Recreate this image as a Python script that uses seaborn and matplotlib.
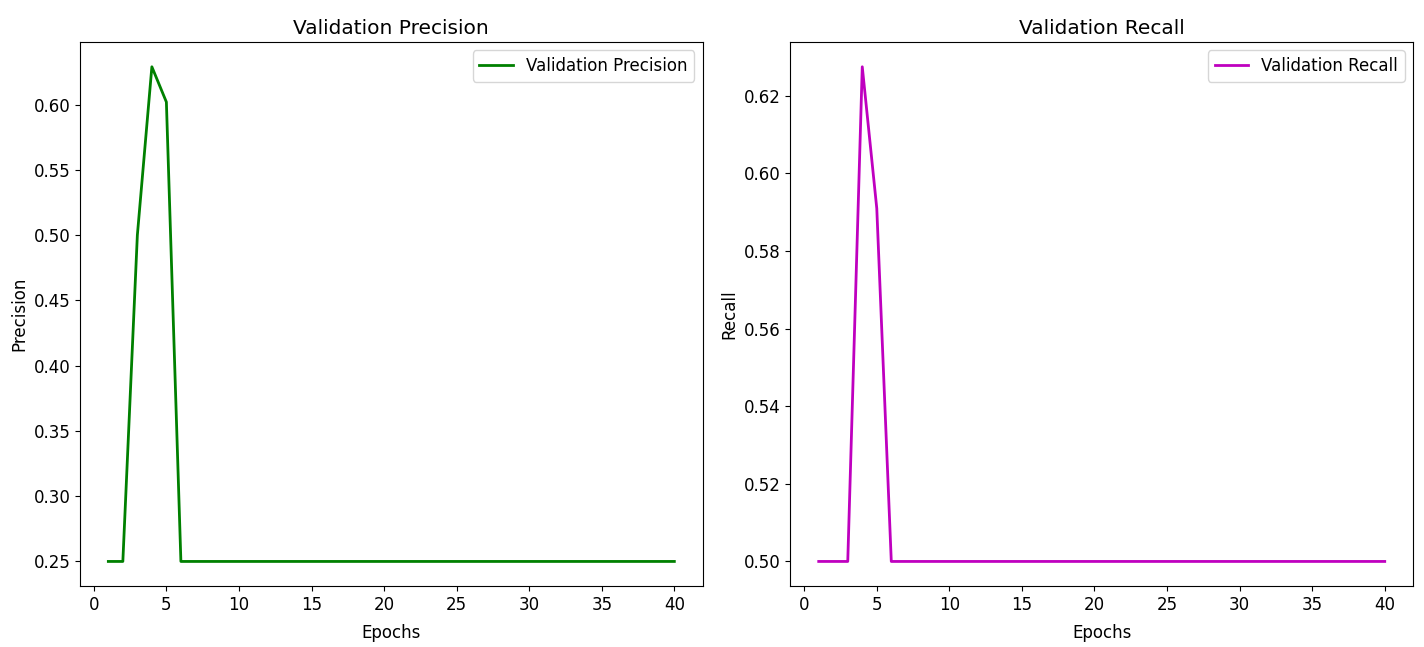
import matplotlib
matplotlib.use("Agg")
import matplotlib.pyplot as plt
import seaborn as sns
import pandas as pd

epochs = list(range(1, 41))
val_precision = [0.25, 0.25, 0.50, 0.629, 0.602] + [0.25] * 35
val_recall = [0.50, 0.50, 0.50, 0.6275, 0.591] + [0.50] * 35

df = pd.DataFrame({"Epochs": epochs, "Precision": val_precision, "Recall": val_recall})

plt.rcParams["font.size"] = 12
fig, axes = plt.subplots(1, 2, figsize=(14.24, 6.47), dpi=100)
fig.subplots_adjust(left=0.0562, right=0.9923, top=0.935, bottom=0.094, wspace=0.141)

sns.lineplot(data=df, x="Epochs", y="Precision", ax=axes[0], color="g",
             linewidth=2, label="Validation Precision")
axes[0].set_title("Validation Precision", fontsize=14.5)
axes[0].set_xlabel("Epochs", labelpad=7)
axes[0].set_ylabel("Precision")
axes[0].legend(loc="upper right")

sns.lineplot(data=df, x="Epochs", y="Recall", ax=axes[1], color="m",
             linewidth=2, label="Validation Recall")
axes[1].set_title("Validation Recall", fontsize=14.5)
axes[1].set_xlabel("Epochs", labelpad=7)
axes[1].set_ylabel("Recall")
axes[1].legend(loc="upper right")

fig.savefig("out.png", dpi=100)
